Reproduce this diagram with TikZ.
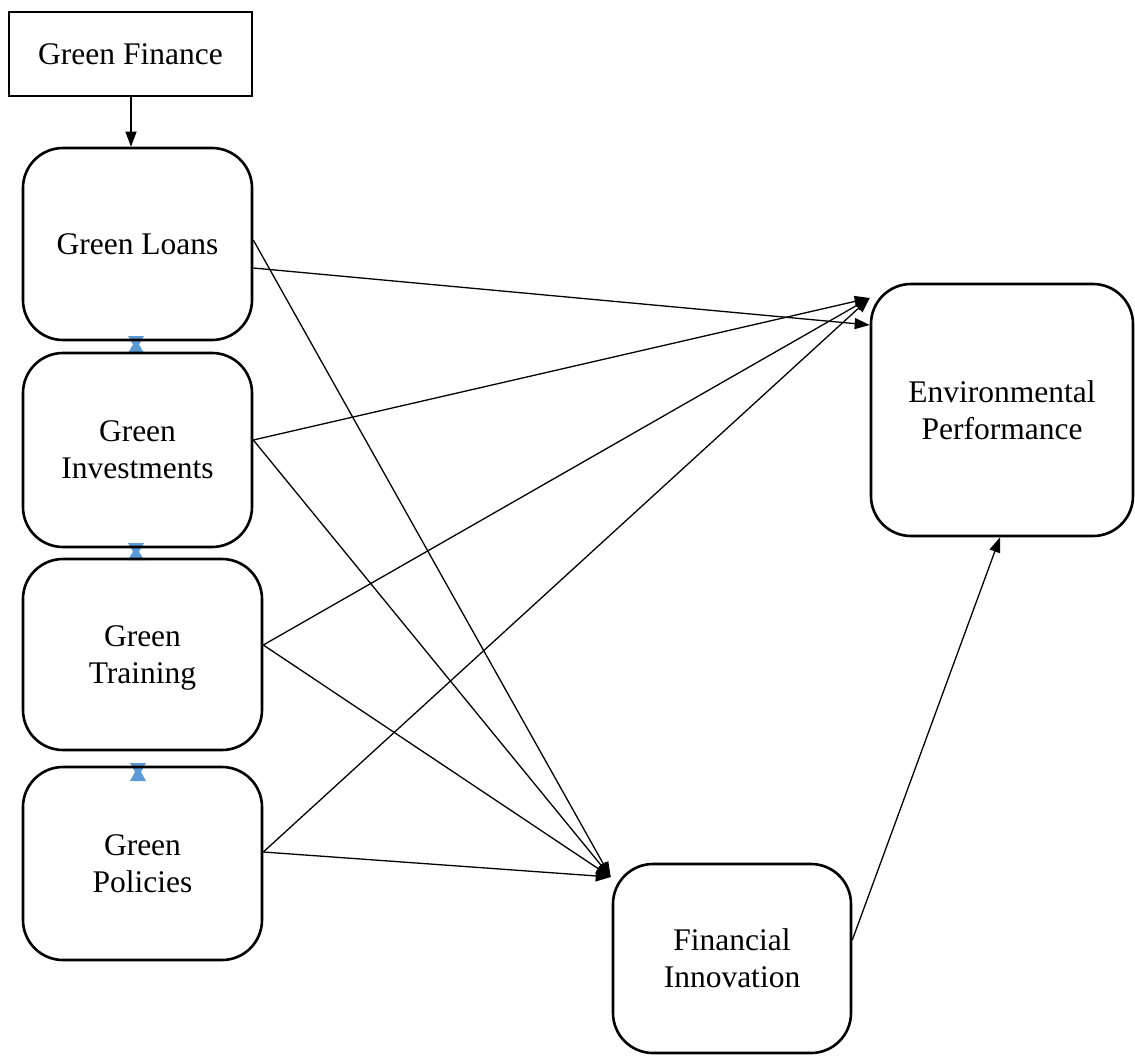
\documentclass[tikz,border=0pt]{standalone}
\usepackage{fontspec}
\setmainfont{Liberation Serif}
\usetikzlibrary{arrows.meta}
\definecolor{linkblue}{HTML}{5B9BD5}
\begin{document}
\begin{tikzpicture}[x=1pt,y=-1pt,
  every node/.style={font=\fontsize{31.5}{37}\selectfont, align=center},
  rbox/.style={draw, line width=2.6pt, rounded corners=40pt, inner sep=0pt, text depth=0pt},
  sbox/.style={draw, line width=2.4pt, inner sep=0pt},
  conn/.style={line width=1.3pt, -{Triangle[length=15pt,width=11pt]}},
  link/.style={fill=linkblue, draw=none}
]
\useasboundingbox (0,0) rectangle (1135,1055);
% blue double links (hourglass-shaped double arrowheads)
\fill[link] (128,336) -- (144,336) -- (139,344.5) -- (144,353) -- (128,353) -- (133,344.5) -- cycle;
\fill[link] (128,543) -- (144,543) -- (139,551.5) -- (144,560) -- (128,560) -- (133,551.5) -- cycle;
\fill[link] (130,763) -- (146,763) -- (141,772) -- (146,781) -- (130,781) -- (135,772) -- cycle;

\node[sbox, minimum width=243pt, minimum height=84pt] (GF) at (130.5,54) {Green Finance};
\node[rbox, minimum width=229pt, minimum height=192pt] (GL) at (137.5,244) {Green Loans};
\node[rbox, minimum width=229pt, minimum height=194pt] (GI) at (137.5,450) {Green\\Investments};
\node[rbox, minimum width=239pt, minimum height=191pt] (GT) at (142.5,654.5) {Green\\Training};
\node[rbox, minimum width=239pt, minimum height=193pt] (GP) at (142.5,863.5) {Green\\Policies};
\node[rbox, minimum width=262pt, minimum height=252pt] (EP) at (1002,410) {Environmental\\Performance};
\node[rbox, minimum width=238pt, minimum height=189pt] (FI) at (732,958.5) {Financial\\Innovation};

\draw[conn] ([xshift=0.5pt]GF.south) -- ([xshift=0.5pt]GF.south |- GL.north);

\draw[conn] ([yshift=-24pt]GL.east) -- ([yshift=85pt]EP.west);
\draw[conn] ([yshift=4pt]GL.east) -- ([xshift=-1pt,yshift=81.5pt]FI.west);
\draw[conn] ([yshift=10pt]GI.east) -- ([yshift=112pt]EP.west);
\draw[conn] ([yshift=10pt]GI.east) -- ([xshift=-1pt,yshift=81.5pt]FI.west);
\draw[conn] ([yshift=9.5pt]GT.east) -- ([yshift=112pt]EP.west);
\draw[conn] ([yshift=9.5pt]GT.east) -- ([xshift=-1pt,yshift=81.5pt]FI.west);
\draw[conn] ([yshift=11.5pt]GP.east) -- ([yshift=112pt]EP.west);
\draw[conn] ([yshift=11.5pt]GP.east) -- ([xshift=-1pt,yshift=81.5pt]FI.west);
\draw[conn] ([yshift=18.5pt]FI.east) -- ([xshift=-2pt]EP.south);
\end{tikzpicture}
\end{document}
